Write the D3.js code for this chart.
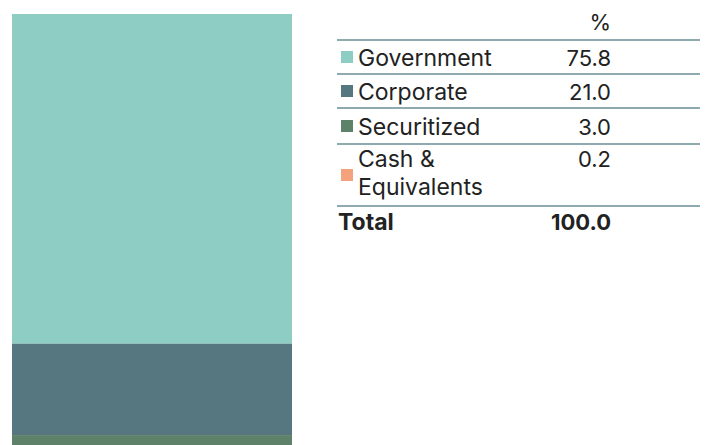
<!DOCTYPE html>
<html>
<head>
<meta charset="utf-8">
<style>
  body { margin: 0; background: #fff; }
  svg { display: block; font-family: Inter, "Noto Sans", sans-serif; }
</style>
</head>
<body>
<script src="https://cdn.jsdelivr.net/npm/d3@7"></script>
<script>
// data
var sectors = ["Government", "Corporate", "Securitized", "Cash & Equivalents"];
var labelLines = [["Government"], ["Corporate"], ["Securitized"], ["Cash &", "Equivalents"]];
var shares = [75.8, 21.0, 3.0, 0.2];
var colors = ["#8ecdc3", "#56777f", "#5d8169", "#f4a17e"];
var totalLabel = "Total";
var totalValue = "100.0";
var headerLabel = "%";

var W = 707, H = 445;
var svg = d3.select("body").append("svg")
    .attr("width", W).attr("height", H);

// stacked single bar
var y = d3.scaleLinear().domain([0, 100]).range([14, 449]);
var x = d3.scaleBand().domain(["all"]).range([12, 292]);

var stacked = [];
var acc = 0;
shares.forEach((v, i) => { stacked.push({ name: sectors[i], y0: acc, y1: acc + v, c: colors[i] }); acc += v; });

svg.selectAll(".seg")
    .data(stacked)
  .enter().append("rect")
    .attr("class", "seg")
    .attr("x", x("all"))
    .attr("width", x.bandwidth())
    .attr("y", d => y(d.y0))
    .attr("height", d => y(d.y1) - y(d.y0))
    .attr("fill", d => d.c);

// table
var tx0 = 337, tx1 = 700, valX = 611;
var rowH = [34, 34, 36, 62];
var fs = 22, lfs = 23;
var lineColor = "#8eaab0";
var textColor = "#222";

svg.append("text").text(headerLabel)
    .attr("x", valX).attr("y", 30)
    .attr("text-anchor", "end")
    .style("font-size", fs + "px").attr("fill", textColor);

var rowTop = 40;
svg.append("line").attr("x1", tx0).attr("x2", tx1).attr("y1", rowTop).attr("y2", rowTop)
    .attr("stroke", lineColor).attr("stroke-width", 2);

sectors.forEach((s, i) => {
  var h = rowH[i];
  var mid = rowTop + h / 2;
  var lines = labelLines[i];
  svg.append("rect")
      .attr("x", 341).attr("y", mid - 6).attr("width", 12).attr("height", 12)
      .attr("fill", colors[i]);
  var firstBase = lines.length > 1 ? rowTop + 23 : mid + 9;
  lines.forEach((l, j) => {
    svg.append("text").text(l)
        .attr("x", 358).attr("y", firstBase + j * 28)
        .style("font-size", lfs + "px").attr("fill", textColor);
  });
  svg.append("text").text(shares[i].toFixed(1))
      .attr("x", valX).attr("y", firstBase)
      .attr("text-anchor", "end")
      .style("font-size", fs + "px").attr("fill", textColor);
  rowTop += h;
  svg.append("line").attr("x1", tx0).attr("x2", tx1).attr("y1", rowTop).attr("y2", rowTop)
      .attr("stroke", lineColor).attr("stroke-width", 2);
});

svg.append("text").text(totalLabel)
    .attr("x", 338).attr("y", 230)
    .style("font-size", lfs + "px").style("font-weight", "bold").attr("fill", textColor);
svg.append("text").text(totalValue)
    .attr("x", valX).attr("y", 230)
    .attr("text-anchor", "end")
    .style("font-size", fs + "px").style("font-weight", "bold").attr("fill", textColor);
</script>
</body>
</html>
